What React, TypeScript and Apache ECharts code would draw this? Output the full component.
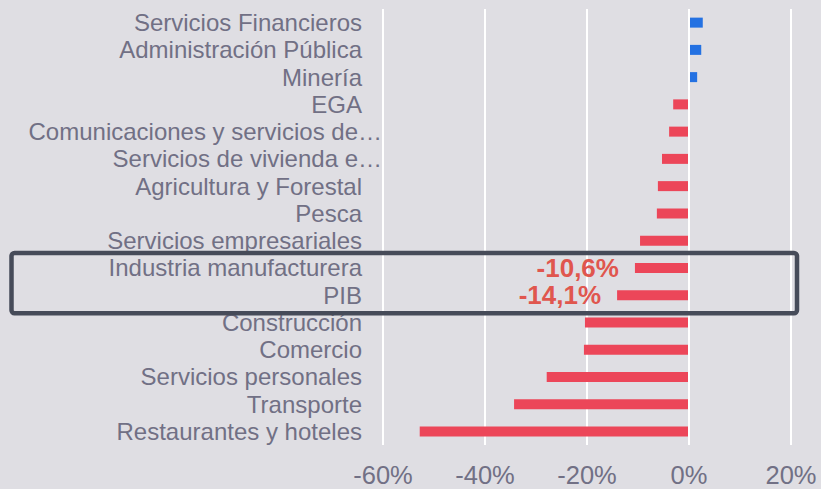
import React, { useEffect, useRef } from "react";
import * as echarts from "echarts";

const categories: string[] = [
  "Servicios Financieros",
  "Administración Pública",
  "Minería",
  "EGA",
  "Comunicaciones y servicios de…",
  "Servicios de vivienda e…",
  "Agricultura y Forestal",
  "Pesca",
  "Servicios empresariales",
  "Industria manufacturera",
  "PIB",
  "Construcción",
  "Comercio",
  "Servicios personales",
  "Transporte",
  "Restaurantes y hoteles",
];

const values: number[] = [
  2.7, 2.4, 1.6, -3.1, -3.9, -5.3, -6.1, -6.3, -9.6, -10.6, -14.1, -20.4, -20.6, -27.9, -34.3, -52.8,
];

const labelledCategories: string[] = ["Industria manufacturera", "PIB"];

const xTicks = { min: -60, max: 20, interval: 20 };

const FONT = "'Liberation Sans', Arial, sans-serif";
const GRAY = "#717085";

export default function App() {
  const ref = useRef<HTMLDivElement>(null);

  useEffect(() => {
    if (!ref.current) return;
    const chart = echarts.init(ref.current, undefined, { renderer: "svg" });

    const data = values.map((v, i) => ({
      value: v,
      itemStyle: { color: v >= 0 ? "#2471e2" : "#ec4659" },
      label: labelledCategories.includes(categories[i])
        ? {
            show: true,
            position: "left",
            distance: 16,
            formatter: () => `${v.toFixed(1).replace(".", ",")}%`,
            color: "#e0564e",
            fontSize: 26,
            fontWeight: "bold",
            fontFamily: FONT,
          }
        : { show: false },
    }));

    chart.setOption({
      animation: false,
      backgroundColor: "#dfdee3",
      grid: { left: 383, right: 30, top: 9, bottom: 44, containLabel: false },
      xAxis: {
        type: "value",
        min: xTicks.min,
        max: xTicks.max,
        interval: xTicks.interval,
        axisLine: { show: false },
        axisTick: { show: false },
        splitLine: { show: true, lineStyle: { color: "#ffffff", width: 2 } },
        axisLabel: {
          formatter: (v: number) => `${v}%`,
          color: GRAY,
          fontSize: 25.5,
          fontFamily: FONT,
          margin: 17,
        },
      },
      yAxis: {
        type: "category",
        inverse: true,
        data: categories,
        axisLine: { show: false },
        axisTick: { show: false },
        splitLine: { show: false },
        axisLabel: {
          margin: 1,
          interval: 0,
          formatter: (v: string) => (v.endsWith("…") ? `{t|${v}}` : `{n|${v}}`),
          rich: {
            n: { color: GRAY, fontSize: 24, fontFamily: FONT, padding: [0, 20, 0, 0] },
            t: { color: GRAY, fontSize: 24, fontFamily: FONT },
          },
        },
      },
      series: [
        {
          type: "bar",
          data,
          barWidth: 10,
          markLine: {
            silent: true,
            symbol: "none",
            label: { show: false },
            lineStyle: { color: "#ffffff", width: 2, type: "solid" },
            data: [{ xAxis: 0 }],
          },
        },
      ],
      graphic: [
        {
          type: "rect",
          shape: { x: 11.5, y: 253, width: 785.5, height: 60.3, r: 3 },
          style: { fill: "none", stroke: "#464b59", lineWidth: 4.5 },
          z: 10,
        },
      ],
    });

    return () => chart.dispose();
  }, []);

  return (
    <div
      ref={ref}
      style={{ position: "absolute", left: 0, top: 0, width: 821, height: 489 }}
    />
  );
}
